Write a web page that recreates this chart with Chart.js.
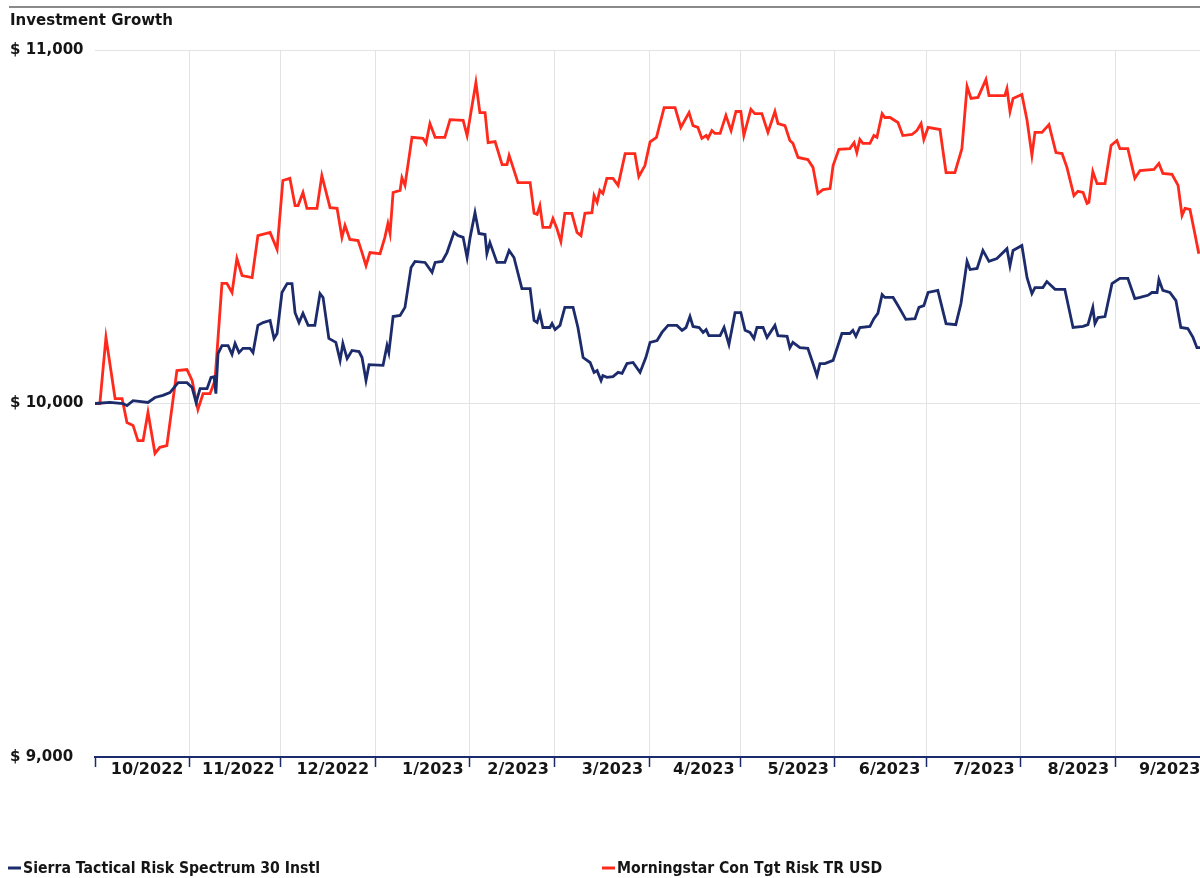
<!DOCTYPE html>
<html>
<head>
<meta charset="utf-8">
<title>Investment Growth</title>
<script src="https://cdn.jsdelivr.net/npm/chart.js@4.4.0/dist/chart.umd.min.js"></script>
<style>
  html, body { margin: 0; padding: 0; background: #fff; }
  #growthChart { display: block; }
</style>
</head>
<body>
<canvas id="growthChart" width="1200" height="878"></canvas>
<script>
// x values are calendar days counted from 1 Oct 2022
const monthLabels = ["10/2022", "11/2022", "12/2022", "1/2023", "2/2023", "3/2023",
  "4/2023", "5/2023", "6/2023", "7/2023", "8/2023", "9/2023"];
const monthEnds = [31, 61, 92, 123, 151, 182, 212, 243, 273, 304, 335, 365];
const yTicks = [9000, 10000, 11000];

const sierraDays = [0, 4.9, 9.2, 10.5, 12.5, 17.4, 19.7, 22.3, 24.6, 27.3, 30.2, 31.9, 33.2, 34.5, 36.8,
  38.1, 39.1, 39.7, 40.4, 41.7, 43.7, 45.0, 46.0, 47.3, 48.6, 50.9, 51.9, 53.5, 55.2, 57.5, 58.8,
  59.8, 61.4, 63.1, 64.7, 65.7, 67.0, 68.3, 70.0, 72.2, 73.9, 74.9, 76.8, 79.1, 80.5, 81.4, 82.8,
  84.4, 86.7, 87.7, 89.0, 90.0, 94.6, 95.9, 96.5, 97.9, 100.2, 101.8, 103.8, 105.1, 108.4, 110.7,
  111.7, 114.0, 115.6, 117.9, 119.2, 120.9, 122.2, 123.2, 124.8, 126.1, 128.1, 128.7, 129.7, 132.0,
  134.6, 136.0, 137.6, 140.2, 142.9, 144.2, 145.2, 146.1, 147.1, 149.4, 150.1, 151.1, 152.7, 154.3,
  157.0, 158.6, 160.3, 162.6, 163.9, 164.9, 166.2, 166.8, 168.1, 170.1, 171.8, 173.1, 174.7, 176.7,
  179.0, 180.9, 182.3, 184.6, 186.2, 188.2, 191.1, 192.8, 194.1, 195.4, 196.4, 198.4, 199.7, 200.7,
  201.6, 205.3, 206.6, 208.2, 210.2, 212.1, 213.5, 215.1, 216.4, 217.4, 219.4, 220.7, 223.3, 224.3,
  227.3, 228.2, 229.2, 231.5, 234.1, 235.8, 237.1, 238.1, 239.7, 242.4, 245.3, 247.9, 248.9, 249.9,
  251.2, 254.5, 255.8, 257.1, 258.5, 259.4, 262.1, 263.7, 266.3, 269.3, 270.6, 272.2, 273.6, 276.8,
  279.5, 282.7, 284.4, 286.4, 287.4, 289.7, 291.6, 293.6, 296.2, 299.5, 300.5, 301.5, 304.4, 306.1,
  307.7, 308.7, 311.3, 312.6, 315.3, 318.5, 321.2, 324.5, 326.1, 327.7, 328.4, 329.4, 331.7, 334.0,
  336.6, 339.2, 341.5, 343.2, 345.8, 347.1, 348.8, 349.4, 350.7, 353.0, 355.0, 356.6, 358.9, 360.6,
  361.9, 362.9];
const sierraValues = [10000, 10003, 10000, 9994, 10008, 10003, 10017, 10023, 10031, 10059, 10059, 10045, 10003, 10042, 10042,
  10074, 10076, 10028, 10141, 10164, 10164, 10139, 10170, 10144, 10156, 10156, 10144, 10221, 10229, 10235, 10184,
  10198, 10314, 10339, 10339, 10257, 10229, 10255, 10221, 10221, 10311, 10300, 10184, 10173, 10122, 10170, 10127,
  10150, 10147, 10130, 10065, 10110, 10108, 10164, 10144, 10246, 10249, 10272, 10385, 10402, 10399, 10371,
  10399, 10402, 10427, 10484, 10475, 10470, 10413, 10470, 10540, 10481, 10478, 10424, 10455, 10399,
  10399, 10433, 10413, 10325, 10325, 10235, 10229, 10255, 10215, 10215, 10226, 10209, 10221, 10272,
  10272, 10215, 10130, 10116, 10088, 10093, 10065, 10079, 10074, 10076, 10088, 10085, 10113, 10116,
  10088, 10130, 10173, 10178, 10201, 10221, 10221, 10207, 10215, 10246, 10218, 10215, 10201, 10209,
  10192, 10192, 10215, 10167, 10257, 10257, 10207, 10201, 10184, 10215, 10215, 10187, 10221, 10192,
  10190, 10158, 10173, 10158, 10156, 10113, 10079, 10113, 10113, 10122, 10198, 10198, 10207, 10190,
  10215, 10218, 10240, 10255, 10308, 10300, 10300, 10277, 10238, 10240, 10272, 10277, 10314, 10320,
  10226, 10223, 10283, 10402, 10379, 10382, 10433, 10402, 10410, 10438, 10390, 10433, 10447, 10356,
  10311, 10328, 10328, 10345, 10323, 10323, 10215, 10218, 10223, 10272, 10226, 10243, 10246, 10339,
  10354, 10354, 10297, 10300, 10306, 10314, 10314, 10351, 10320, 10314, 10291, 10215, 10212, 10187,
  10158, 10158];

const benchDays = [0, 1.6, 3.6, 6.6, 8.9, 10.5, 12.5, 14.1, 15.8, 17.4, 19.7, 21.3, 23.6, 26.9, 30.2,
  31.9, 33.8, 35.5, 37.8, 39.4, 41.7, 43.3, 45.0, 46.6, 48.3, 51.6, 53.5, 57.5, 59.8, 61.7, 64.0,
  65.7, 66.7, 68.3, 69.6, 72.9, 74.5, 77.2, 79.5, 81.1, 82.1, 83.7, 86.4, 87.7, 89.0, 90.3, 93.6,
  95.2, 96.2, 96.9, 97.9, 100.2, 100.8, 101.8, 104.1, 107.7, 108.7, 110.0, 111.7, 114.9, 116.6,
  120.9, 122.2, 125.1, 126.4, 128.1, 129.1, 131.4, 133.7, 135.3, 136.0, 137.3, 138.9, 142.9, 144.2,
  145.2, 146.1, 147.1, 149.4, 150.4, 151.7, 153.0, 154.3, 156.6, 158.3, 159.6, 160.9, 163.2, 163.9,
  164.9, 165.8, 166.8, 168.1, 170.1, 171.8, 174.1, 177.3, 178.6, 180.6, 182.3, 184.4, 186.9, 190.5,
  192.4, 195.1, 196.4, 198.0, 199.3, 200.7, 201.3, 202.6, 203.6, 205.3, 207.2, 208.9, 210.5, 212.1,
  213.1, 215.4, 216.7, 219.0, 221.0, 223.3, 224.3, 226.6, 228.2, 229.2, 230.9, 234.1, 235.8, 237.4,
  239.1, 241.4, 242.4, 244.3, 247.9, 249.3, 250.2, 251.2, 252.2, 254.5, 255.8, 256.8, 258.5, 259.4,
  261.1, 263.7, 265.3, 268.3, 269.9, 271.3, 272.2, 273.6, 277.5, 279.5, 282.4, 284.7, 286.4, 287.7,
  290.0, 292.6, 293.6, 298.8, 299.5, 300.5, 301.5, 304.4, 306.1, 307.7, 308.7, 311.0, 313.3, 315.6,
  317.6, 319.2, 321.5, 322.8, 324.5, 325.8, 326.4, 327.7, 329.1, 331.7, 333.7, 335.6, 336.6, 339.2,
  341.5, 343.2, 347.8, 349.4, 350.7, 353.7, 355.7, 357.0, 358.0, 359.6, 361.2, 362.5];
const benchValues = [10000, 10000, 10187, 10014, 10014, 9946, 9938, 9895, 9895, 9975, 9859, 9876, 9881, 10093, 10096,
  10065, 9983, 10028, 10028, 10065, 10340, 10340, 10314, 10410, 10362, 10356, 10475, 10484, 10436, 10631, 10637,
  10560, 10560, 10597, 10552, 10552, 10645, 10554, 10552, 10470, 10504, 10464, 10461, 10427, 10390, 10427, 10424,
  10470, 10509, 10481, 10597, 10603, 10639, 10617, 10753, 10750, 10736, 10792, 10753, 10753, 10803,
  10801, 10758, 10908, 10823, 10823, 10738, 10741, 10676, 10676, 10702, 10668, 10625, 10625, 10538,
  10535, 10560, 10498, 10498, 10523, 10495, 10458, 10538, 10538, 10484, 10475, 10538, 10540, 10588,
  10569, 10603, 10594, 10637, 10637, 10617, 10707, 10707, 10642, 10673, 10740, 10753, 10837, 10837,
  10781, 10823, 10786, 10781, 10750, 10758, 10750, 10772, 10764, 10764, 10815, 10772, 10826, 10826,
  10758, 10832, 10820, 10820, 10767, 10826, 10792, 10786, 10744, 10736, 10696, 10690, 10668, 10594,
  10605, 10608, 10673, 10719, 10721, 10738, 10710, 10747, 10736, 10736, 10758, 10753, 10820, 10809,
  10809, 10795, 10758, 10761, 10772, 10792, 10747, 10781, 10775, 10653, 10653, 10721, 10897, 10863,
  10866, 10917, 10871, 10871, 10891, 10826, 10863, 10874, 10801, 10702, 10767, 10767, 10789, 10710,
  10707, 10668, 10588, 10600, 10597, 10566, 10569, 10656, 10622, 10622, 10730, 10744, 10721, 10721,
  10637, 10659, 10662, 10679, 10651, 10648, 10617, 10532, 10552, 10549, 10481, 10424];

const NAVY = "#1c2b6b";
const RED = "#ff2a1c";
const GRID = "#e3e3e3";
const TEXT = "#151515";

Chart.defaults.font.family = "'DejaVu Sans', Verdana, sans-serif";
Chart.defaults.font.size = 15;
Chart.defaults.font.weight = "bold";
Chart.defaults.color = TEXT;

function toPoints(days, values) {
  return days.map((d, i) => ({ x: d, y: values[i] }));
}

// rule, heading and the two-column legend under the plot
const frame = {
  id: "frame",
  afterDraw(chart) {
    const ctx = chart.ctx;
    ctx.save();
    ctx.strokeStyle = "#8a8a8a";
    ctx.lineWidth = 2;
    ctx.beginPath();
    ctx.moveTo(9, 7);
    ctx.lineTo(1200, 7);
    ctx.stroke();

    ctx.fillStyle = TEXT;
    ctx.font = "bold 15px 'DejaVu Sans'";
    ctx.textBaseline = "middle";
    ctx.fillText("Investment Growth", 10, 21);

    const legendX = [8, 602];
    chart.data.datasets.forEach((ds, i) => {
      const x = legendX[i];
      const y = 868;
      ctx.strokeStyle = ds.borderColor;
      ctx.lineWidth = 3;
      ctx.beginPath();
      ctx.moveTo(x, y);
      ctx.lineTo(x + 13, y);
      ctx.stroke();
      ctx.save();
      ctx.translate(x + 15, y + 1);
      ctx.scale(0.88, 1);
      ctx.font = "bold 16px 'DejaVu Sans'";
      ctx.fillStyle = TEXT;
      ctx.fillText(ds.label, 0, 0);
      ctx.restore();
    });
    ctx.restore();
  }
};

new Chart(document.getElementById("growthChart").getContext("2d"), {
  type: "line",
  data: {
    datasets: [
      {
        label: "Sierra Tactical Risk Spectrum 30 Instl",
        data: toPoints(sierraDays, sierraValues),
        borderColor: NAVY,
        backgroundColor: NAVY,
      },
      {
        label: "Morningstar Con Tgt Risk TR USD",
        data: toPoints(benchDays, benchValues),
        borderColor: RED,
        backgroundColor: RED,
      },
    ],
  },
  options: {
    responsive: false,
    animation: false,
    devicePixelRatio: 1,
    layout: { padding: { top: 50, left: 10, right: 0, bottom: 0 } },
    elements: {
      point: { radius: 0 },
      line: { borderWidth: 2.8, tension: 0 },
    },
    scales: {
      x: {
        type: "linear",
        min: 0,
        max: 362.9,
        afterBuildTicks: (s) => { s.ticks = [0, ...monthEnds].map((v) => ({ value: v })); },
        afterFit: (s) => { s.height = 121; },
        border: { color: NAVY, width: 2 },
        grid: {
          color: (c) => (c.tick && c.tick.value === 0 ? "rgba(0,0,0,0)" : GRID),
          tickColor: NAVY,
          tickLength: 10,
          tickWidth: 1.5,
        },
        ticks: {
          align: "end",
          labelOffset: -6,
          padding: -7,
          autoSkip: false,
          maxRotation: 0,
          font: { size: 16 },
          callback: (v, i) => (i === 0 ? "" : monthLabels[i - 1]),
        },
      },
      y: {
        min: 9000,
        max: 11000,
        afterBuildTicks: (s) => { s.ticks = yTicks.map((v) => ({ value: v })); },
        afterFit: (s) => { s.width = 85; },
        border: { display: false },
        grid: { color: GRID, drawTicks: false },
        ticks: {
          crossAlign: "far",
          padding: 0,
          callback: (v) => "$ " + v.toLocaleString("en-US"),
        },
      },
    },
    plugins: {
      legend: { display: false },
      tooltip: { enabled: false },
    },
  },
  plugins: [frame],
});
</script>
</body>
</html>
